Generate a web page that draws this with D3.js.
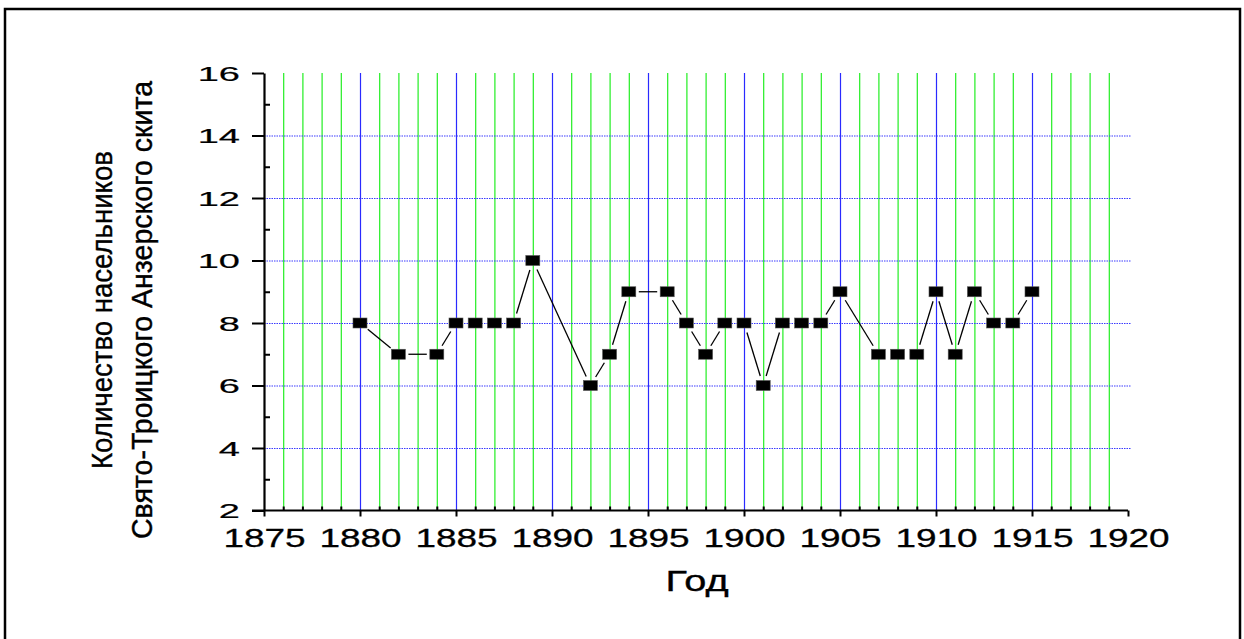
<!DOCTYPE html>
<html>
  <head>
    <meta charset="utf-8">
    <title>Насельники Анзерского скита</title>
    <script src="https://d3js.org/d3.v7.min.js"></script>
    <style>
      body { margin: 0; background: #fff; }
      text { font-family: "Liberation Sans", Arial, sans-serif; }
    </style>
  </head>
  <body>
    <div id="chart"></div>
  </body>
  <script>
  // данные
  var years  = [1880, 1882, 1884, 1885, 1886, 1887, 1888, 1889, 1892, 1893, 1894, 1896, 1897, 1898, 1899,
                1900, 1901, 1902, 1903, 1904, 1905, 1907, 1908, 1909, 1910, 1911, 1912, 1913, 1914, 1915];
  var counts = [8, 7, 7, 8, 8, 8, 8, 10, 6, 7, 9, 9, 8, 7, 8,
                8, 6, 8, 8, 8, 9, 7, 7, 7, 9, 7, 9, 8, 8, 9];
  var xTicks = [1875, 1880, 1885, 1890, 1895, 1900, 1905, 1910, 1915, 1920];
  var yTicks = [2, 4, 6, 8, 10, 12, 14, 16];
  var xLabel = "Год";
  var yLabel = ["Количество насельников", "Свято-Троицкого Анзерского скита"];

  var W = 1244, H = 639;
  var x = d3.scaleLinear().domain([1875, 1920]).range([264, 1128]);
  var y = d3.scaleLinear().domain([2, 16]).range([510.5, 73]);

  var svg = d3.select("#chart").append("svg")
      .attr("width", W)
      .attr("height", H);

  // рамка
  svg.append("rect")
      .attr("x", 5).attr("y", 9)
      .attr("width", 1235).attr("height", 660)
      .attr("fill", "none")
      .attr("stroke", "#000")
      .attr("stroke-width", 2.5);

  // сетка по годам
  var gridYears = d3.range(1876, 1920);
  svg.append("g").selectAll("line")
      .data(gridYears)
      .enter()
      .append("line")
      .attr("x1", d => x(d) + 0.5).attr("x2", d => x(d) + 0.5)
      .attr("y1", y(16)).attr("y2", y(2))
      .attr("stroke", d => d % 5 == 0 ? "#2a2aff" : "#22ee22")
      .attr("stroke-width", 1.2);

  // горизонтальная сетка
  svg.append("g").selectAll("line")
      .data(yTicks.filter(d => d > 2 && d < 16))
      .enter()
      .append("line")
      .attr("x1", x(1875)).attr("x2", x(1920) + 3)
      .attr("y1", d => y(d) + 0.5).attr("y2", d => y(d) + 0.5)
      .attr("stroke", "#3a3aff")
      .attr("stroke-width", 1.2)
      .attr("stroke-dasharray", "1.5,1");

  // соединительные линии с разрывом у маркеров
  var pts = years.map((d, i) => [x(d), y(counts[i])]);
  var gap = 10;
  var segs = [];
  for (let i = 0; i < pts.length - 1; i++) {
      let a = pts[i], b = pts[i + 1];
      let dx = b[0] - a[0], dy = b[1] - a[1];
      let len = Math.sqrt(dx * dx + dy * dy);
      if (len <= 2 * gap) continue;
      let ux = dx / len, uy = dy / len;
      segs.push([a[0] + ux * gap, a[1] + uy * gap, b[0] - ux * gap, b[1] - uy * gap]);
  }
  svg.append("g").selectAll("line")
      .data(segs)
      .enter()
      .append("line")
      .attr("x1", d => d[0]).attr("y1", d => d[1])
      .attr("x2", d => d[2]).attr("y2", d => d[3])
      .attr("stroke", "#000")
      .attr("stroke-width", 1.3);

  // маркеры
  svg.append("g").selectAll("rect")
      .data(years)
      .enter()
      .append("rect")
      .attr("x", d => x(d) - 7)
      .attr("y", (d, i) => y(counts[i]) - 5)
      .attr("width", 14)
      .attr("height", 10)
      .attr("fill", "#000")
      .attr("stroke", "#555")
      .attr("stroke-width", 0.6);

  // оси
  var yAxis = svg.append("g")
      .attr("transform", "translate(" + x(1875) + ",0)")
      .call(d3.axisLeft(y).tickValues(yTicks).tickSize(12).tickSizeOuter(0).tickPadding(0).tickFormat(d3.format("d")));
  var yMinor = svg.append("g")
      .attr("transform", "translate(" + x(1875) + ",0)")
      .call(d3.axisRight(y).tickValues(d3.range(3, 16, 2)).tickSize(6).tickSizeOuter(0).tickFormat(""));
  var xAxis = svg.append("g")
      .attr("transform", "translate(0," + y(2) + ")")
      .call(d3.axisBottom(x).tickValues(xTicks).tickSize(6).tickSizeOuter(0).tickPadding(0).tickFormat(d3.format("d")));
  var xMinor = svg.append("g")
      .attr("transform", "translate(0," + y(2) + ")")
      .call(d3.axisTop(x).tickValues(gridYears.filter(d => d % 5 != 0)).tickSize(4).tickSizeOuter(0).tickFormat(""));

  [yAxis, yMinor, xAxis, xMinor].forEach(g => {
      g.select(".domain").attr("stroke", "#000").attr("stroke-width", 2.2);
      g.selectAll(".tick line").attr("stroke", "#000").attr("stroke-width", 2);
  });
  yMinor.select(".domain").remove();
  xMinor.select(".domain").remove();
  xAxis.select(".domain").attr("d", "M" + (x(1875) - 12) + ",0H" + x(1920));

  // подписи делений (растянуты по горизонтали, как на оригинале)
  yAxis.selectAll(".tick text")
      .attr("x", null).attr("dy", null)
      .attr("text-anchor", "end")
      .attr("fill", "#000")
      .attr("stroke", "#000").attr("stroke-width", 0.2)
      .attr("font-size", "20px")
      .attr("transform", "translate(-24,7.2) scale(1.9,1)");
  xAxis.selectAll(".tick text")
      .attr("y", null).attr("dy", null)
      .attr("fill", "#000")
      .attr("stroke", "#000").attr("stroke-width", 0.3)
      .attr("font-size", "26px")
      .attr("transform", "translate(0,36.5) scale(1.42,1)");

  // подписи осей
  svg.append("text")
      .attr("text-anchor", "middle")
      .attr("font-size", "29px")
      .attr("stroke", "#000").attr("stroke-width", 0.35)
      .attr("transform", "translate(697,591) scale(1.37,1)")
      .text(xLabel);

  var yLens = [318, 458];
  svg.append("g").selectAll("text")
      .data(yLabel)
      .enter()
      .append("text")
      .attr("text-anchor", "middle")
      .attr("font-size", "29px")
      .attr("stroke", "#000").attr("stroke-width", 0.4)
      .attr("textLength", (d, i) => yLens[i])
      .attr("lengthAdjust", "spacingAndGlyphs")
      .attr("transform", (d, i) => "translate(" + (112 + 40 * i) + ",310) rotate(-90)")
      .text(d => d);
  </script>
</html>
